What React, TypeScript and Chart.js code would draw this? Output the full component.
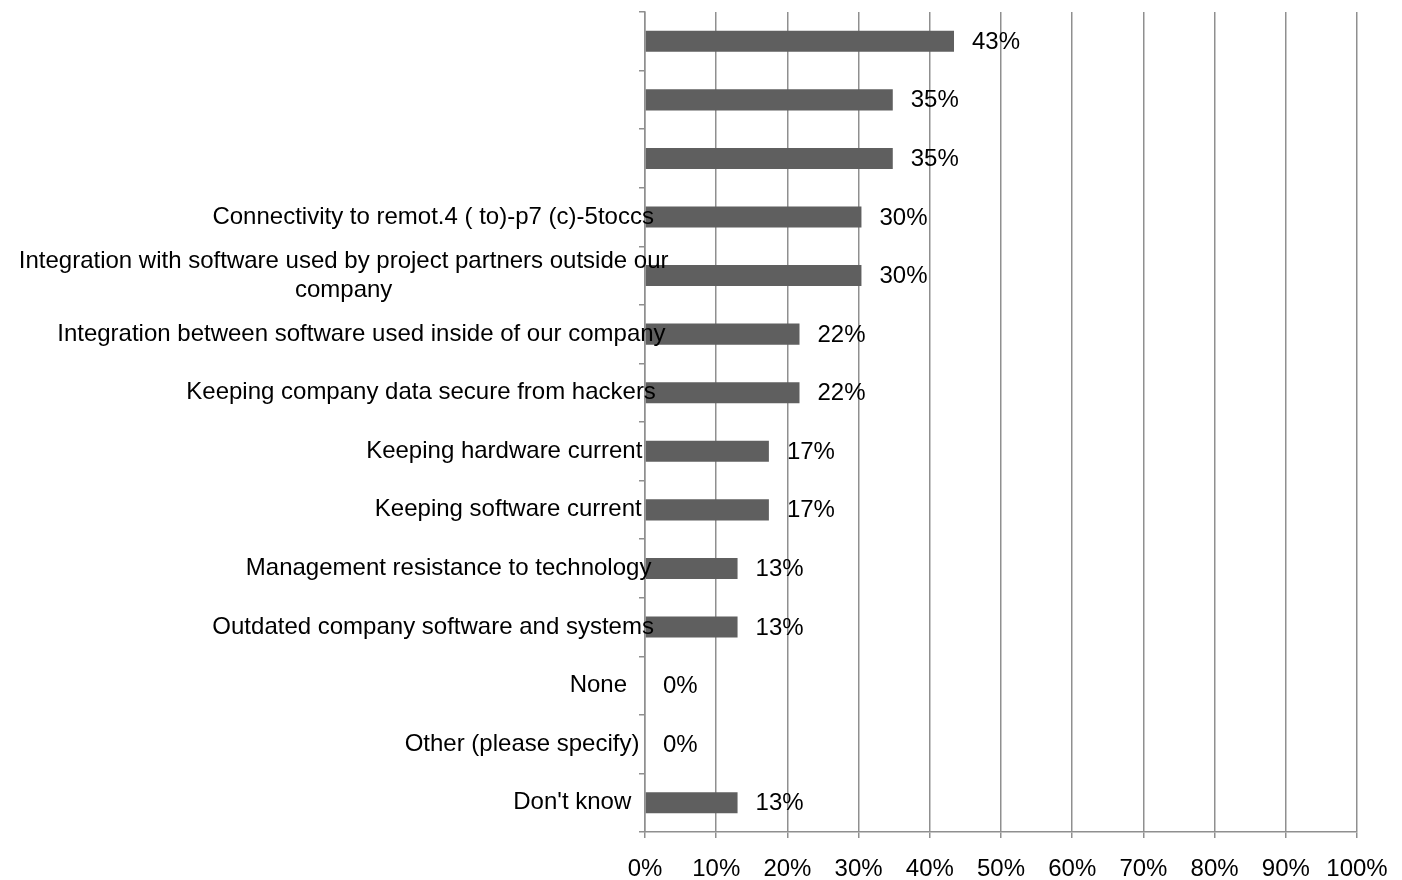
import React, { useEffect, useRef } from "react";
import { Chart, registerables } from "chart.js";

Chart.register(...registerables);

const categories: (string | string[])[] = [
  "",
  "",
  "",
  "Connectivity to remot.4 ( to)-p7 (c)-5toccs",
  ["Integration with software used by project partners outside our", "company"],
  "Integration between software used inside of our company",
  "Keeping company data secure from hackers",
  "Keeping hardware current",
  "Keeping software current",
  "Management resistance to technology",
  "Outdated company software and systems",
  "None",
  "Other (please specify)",
  "Don't know",
];

const values = [43.4, 34.8, 34.8, 30.4, 30.4, 21.7, 21.7, 17.4, 17.4, 13.0, 13.0, 0, 0, 13.0];

const xTicks = [0, 10, 20, 30, 40, 50, 60, 70, 80, 90, 100];

const FONT = '"Liberation Sans", Arial, sans-serif';
const GRID = "#8f8f8f";
const BAR = "#5f5f5f";

const labelPlugin = {
  id: "customLabels",
  afterDatasetsDraw(chart: any) {
    const ctx = chart.ctx;
    const yScale = chart.scales.y;
    const meta = chart.getDatasetMeta(0);
    ctx.save();
    ctx.font = `24px ${FONT}`;
    ctx.fillStyle = "#000";
    ctx.textBaseline = "middle";
    const anchor = chart.chartArea.left - 22;
    categories.forEach((lab, i) => {
      const lines = Array.isArray(lab) ? lab : [lab];
      if (!lines.join("")) return;
      const cy = yScale.getPixelForValue(i);
      const widths = lines.map((l) => ctx.measureText(l).width);
      const maxW = Math.max(...widths);
      const left = anchor - 0.93 * maxW;
      ctx.textAlign = "center";
      lines.forEach((ln, j) => {
        const ly = cy + (j - (lines.length - 1) / 2) * 29;
        ctx.fillText(ln, left + maxW / 2, ly);
      });
    });
    ctx.textAlign = "left";
    meta.data.forEach((bar: any, i: number) => {
      ctx.fillText(Math.round(values[i]) + "%", bar.x + 18, bar.y + 1);
    });
    ctx.restore();
  },
};

export default function App() {
  const ref = useRef<HTMLCanvasElement | null>(null);
  useEffect(() => {
    document.body.style.margin = "0";
    document.body.style.overflow = "hidden";
    if (!ref.current) return;
    const chart = new Chart(ref.current, {
      type: "bar",
      data: {
        labels: categories.map((c, i) => (Array.isArray(c) ? c.join(" ") : c || " " + i)),
        datasets: [
          {
            data: values,
            backgroundColor: BAR,
            borderWidth: 0,
            barPercentage: 0.36,
            categoryPercentage: 1,
          },
        ],
      },
      options: {
        indexAxis: "y",
        animation: false,
        responsive: true,
        maintainAspectRatio: false,
        layout: { padding: { top: 12, right: 45, left: 0, bottom: 0 } },
        plugins: { legend: { display: false }, tooltip: { enabled: false } },
        scales: {
          x: {
            type: "linear",
            min: 0,
            max: 100,
            afterBuildTicks: (scale: any) => {
              scale.ticks = xTicks.map((v) => ({ value: v }));
            },
            afterFit: (scale: any) => {
              scale.height = 48;
              scale.paddingRight = 0;
              scale.paddingLeft = 0;
            },
            ticks: {
              callback: (v: any) => v + "%",
              font: { family: FONT, size: 24 },
              color: "#000",
              padding: 17,
              maxRotation: 0,
            },
            grid: { color: GRID, lineWidth: 1.5, tickLength: 6, drawOnChartArea: true },
            border: { display: true, color: GRID, width: 1.5 },
          },
          y: {
            type: "category",
            afterFit: (scale: any) => {
              scale.width = 645;
            },
            ticks: { callback: () => "", font: { size: 1 } },
            grid: { offset: true, drawOnChartArea: false, color: GRID, lineWidth: 1.5, tickLength: 6 },
            border: { display: true, color: GRID, width: 1.5 },
          },
        },
      },
      plugins: [labelPlugin],
    } as any);
    return () => chart.destroy();
  }, []);
  return (
    <div style={{ width: 1402, height: 880, position: "relative" }}>
      <canvas ref={ref} />
    </div>
  );
}
